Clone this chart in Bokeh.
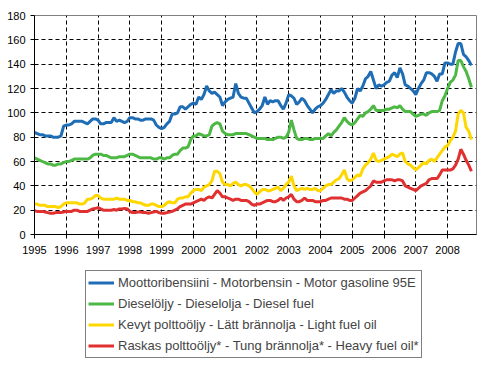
import numpy as np
from bokeh.plotting import figure
from bokeh.layouts import column
from bokeh.models import Range1d, FixedTicker, Legend, LegendItem, ColumnDataSource
from bokeh.embed import file_html
from bokeh.resources import INLINE

# Monthly index, Jan 1995 .. Oct 2008
start_year = 1995
years = list(range(1995, 2009))
year_labels = [str(y) for y in years]

gasoline = [
    84, 83, 82, 82, 81, 81, 81, 80, 80, 80, 81, 89,
    90, 90, 91, 93, 93, 93, 93, 92, 91, 93, 95, 95,
    94, 91, 91, 92, 92, 92, 96, 93, 94, 93, 92, 93,
    96, 96, 95, 95, 94, 94, 95, 95, 95, 94, 90, 88,
    87, 88, 91, 93, 99, 99, 100, 105, 105, 103, 105, 107,
    108, 107, 113, 111, 115, 122, 118, 116, 117, 115, 113, 106,
    109, 111, 112, 113, 124, 116, 113, 112, 112, 108, 104, 100,
    101, 103, 106, 113, 107, 110, 109, 110, 110, 106, 103, 108,
    115, 114, 112, 107, 109, 112, 110, 106, 103, 100, 103, 105,
    106, 108, 111, 115, 119, 116, 118, 118, 120, 117, 113, 110,
    108, 112, 120, 118, 122, 128, 130, 134, 127, 120, 123, 122,
    123, 125, 126, 131, 133, 129, 137, 132, 123, 122, 120, 118,
    115, 120, 124, 127, 133, 133, 132, 130, 126, 132, 132, 141,
    141, 140, 140, 150, 157, 157, 148, 146, 143, 139,
]
diesel = [
    63, 62, 61, 60, 59, 58, 58, 57, 57, 58, 58, 59,
    60, 60, 61, 62, 62, 62, 62, 62, 62, 63, 65, 66,
    66, 66, 65, 65, 64, 63, 63, 63, 64, 64, 64, 65,
    66, 66, 65, 64, 63, 63, 63, 63, 63, 62, 62, 63,
    63, 62, 63, 63, 65, 66, 66, 69, 71, 71, 72, 78,
    81, 81, 83, 82, 81, 81, 82, 89, 91, 92, 91, 85,
    83, 82, 82, 82, 83, 83, 83, 83, 83, 82, 81, 80,
    79, 79, 79, 79, 78, 78, 78, 79, 80, 80, 79, 80,
    84, 94, 86, 79, 78, 78, 79, 79, 78, 78, 79, 79,
    79, 79, 81, 83, 81, 84, 86, 89, 92, 96, 93, 91,
    90, 92, 95, 98, 97, 100, 101, 103, 106, 102, 102, 102,
    102, 103, 103, 104, 105, 104, 106, 103, 101, 101, 101, 99,
    97, 98, 99, 99, 98, 100, 101, 101, 101, 102, 110, 114,
    120, 125, 127, 131, 143, 143, 138, 134, 128, 121,
]
light_oil = [
    25, 25, 24, 24, 24, 23, 23, 23, 23, 22, 23, 25,
    26, 26, 26, 26, 26, 25, 25, 26, 29, 29, 30, 32,
    32, 30, 29, 29, 29, 29, 29, 30, 29, 29, 29, 28,
    28, 27, 27, 26, 26, 25, 24, 24, 25, 25, 24, 23,
    23, 24, 26, 27, 26, 26, 29, 30, 30, 31, 31, 34,
    36, 37, 37, 36, 39, 40, 41, 44, 52, 52, 50, 43,
    41, 41, 40, 42, 43, 41, 40, 41, 41, 40, 38, 35,
    33, 35, 37, 37, 36, 36, 37, 38, 39, 36, 38, 41,
    43, 48, 40, 36, 37, 38, 37, 38, 37, 37, 38, 36,
    36, 38, 40, 41, 41, 43, 45, 46, 49, 53, 46, 44,
    45, 47, 49, 48, 54, 57, 59, 62, 67, 61, 60, 61,
    62, 63, 64, 66, 65, 64, 66, 67, 60, 58, 57, 55,
    53, 55, 57, 59, 58, 61, 62, 60, 63, 66, 69, 72,
    73, 77, 80, 85, 99, 102, 100, 88, 85, 78,
]
heavy_oil = [
    19.5, 19, 19, 19, 18.5, 18, 17.5, 17.5, 18, 18, 18, 18.5,
    19, 19, 19, 20, 20, 19, 19, 19, 19, 20, 21, 21.5,
    22, 21, 20, 20, 20, 20, 20.5, 20, 21, 21, 21.5, 21,
    19, 18, 18, 18.5, 18.5, 18, 18, 17.5, 18, 18.5, 19, 18,
    17.5, 17.5, 18, 18.5, 19, 20, 21, 23, 24, 25, 25, 25,
    26, 27, 28, 29, 28, 30, 31, 30, 33, 36, 34, 31,
    31, 30, 29, 28, 29, 29, 28, 28, 28, 27, 25, 24,
    25, 25, 26, 27, 28, 28, 27, 27, 28, 30, 28, 30,
    31, 33, 29, 27, 27, 28, 30, 28, 28, 28, 27, 27,
    27, 28, 28, 29, 30, 30, 30, 30, 30, 29, 29, 28,
    28, 30, 32, 34, 35, 36, 38, 40, 44, 43, 43, 43,
    44, 45, 45, 45, 44, 45, 45, 44, 40, 39, 38, 37,
    36, 38, 40, 41, 42, 45, 46, 46, 46, 49, 53, 53,
    53, 53, 54, 57, 62, 70, 66, 61, 57, 52,
]

series_names = [
    "Moottoribensiini - Motorbensin - Motor gasoline 95E",
    "Dieselöljy - Dieselolja - Diesel fuel",
    "Kevyt polttoöljy - Lätt brännolja - Light fuel oil",
    "Raskas polttoöljy* - Tung brännolja* - Heavy fuel oil*",
]
series_values = [gasoline, diesel, light_oil, heavy_oil]
colors = ["#1f6db5", "#4db843", "#ffd700", "#e03030"]

y_ticks = list(range(0, 181, 20))

n = len(gasoline)
t = start_year + np.arange(n) / 12.0

FONT = "Liberation Sans"

p = figure(width=489, height=262, output_backend="svg", toolbar_location=None,
           x_range=Range1d(1995, 2008.91), y_range=Range1d(0, 180),
           min_border_left=34, min_border_right=13, min_border_top=15,
           min_border_bottom=28)

p.outline_line_color = "#808080"
p.outline_line_width = 1

for ax in (p.xaxis[0], p.yaxis[0]):
    ax.axis_line_color = "black"
    ax.major_tick_line_color = "black"
    ax.minor_tick_line_color = None
    ax.major_tick_in = 0
    ax.major_tick_out = 4
    ax.major_label_text_font = FONT
    ax.major_label_text_font_size = "11px"
    ax.major_label_text_color = "black"

p.xaxis.ticker = FixedTicker(ticks=years)
p.xaxis.major_label_overrides = {y: lab for y, lab in zip(years, year_labels)}
p.xaxis.major_label_standoff = 7
p.yaxis.ticker = FixedTicker(ticks=y_ticks)
p.yaxis.major_label_standoff = 5

for g in (p.xgrid[0], p.ygrid[0]):
    g.grid_line_color = "black"
    g.grid_line_dash = "4 3"
    g.grid_line_width = 1
p.xgrid.ticker = FixedTicker(ticks=years)
p.ygrid.ticker = FixedTicker(ticks=y_ticks)

for name, vals, c in zip(series_names, series_values, colors):
    src = ColumnDataSource(dict(x=t, y=vals))
    p.line("x", "y", source=src, line_color=c, line_width=3)

# Legend panel below the chart (same series drawn out of view, only for legend glyphs)
pl = figure(width=489, height=98, output_backend="svg", toolbar_location=None,
            x_range=Range1d(0, 1), y_range=Range1d(0, 1),
            x_axis_type=None, y_axis_type=None,
            min_border_left=0, min_border_right=0, min_border_top=0,
            min_border_bottom=0)
pl.outline_line_color = None
pl.xgrid.visible = False
pl.ygrid.visible = False

items = []
for name, vals, c in zip(series_names, series_values, colors):
    src = ColumnDataSource(dict(x=t, y=vals))
    r = pl.line("x", "y", source=src, line_color=c, line_width=3)
    items.append(LegendItem(label=name, renderers=[r]))

legend = Legend(items=items, location=(51, 2), orientation="vertical",
                border_line_color="black", border_line_width=1,
                background_fill_color="white", background_fill_alpha=1,
                label_text_font=FONT, label_text_font_size="13px",
                glyph_width=26, glyph_height=19, label_height=19,
                label_standoff=4, spacing=2, padding=2, margin=0)
pl.add_layout(legend, "center")

layout = column(p, pl, spacing=0)
open("out.html", "w").write(file_html(layout, INLINE))
